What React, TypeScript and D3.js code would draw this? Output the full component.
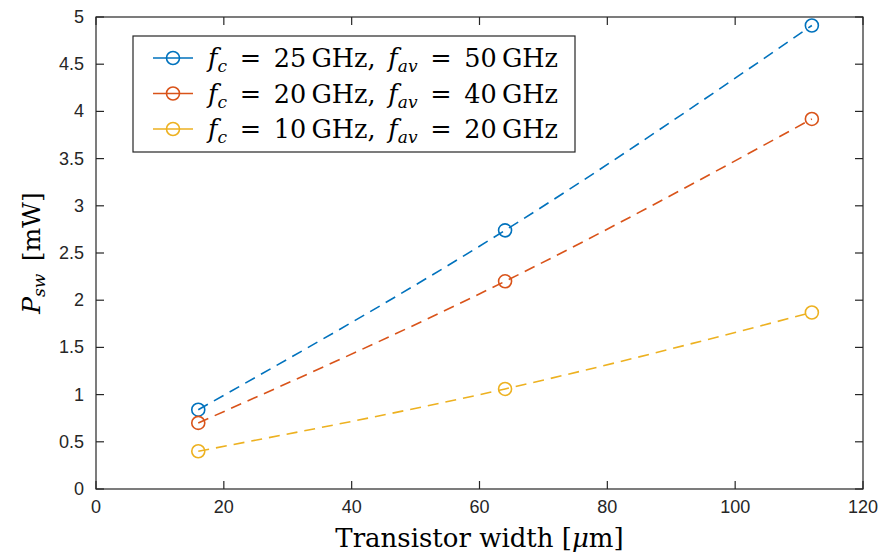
import React from 'react';
import * as d3 from 'd3';

// Switching power vs transistor width, three clock/average frequency pairs.
const widths = [16, 64, 112];
const series = [
  { fc: 25, fav: 50, color: '#0072BD', values: [0.84, 2.74, 4.91] },
  { fc: 20, fav: 40, color: '#D95319', values: [0.7, 2.2, 3.92] },
  { fc: 10, fav: 20, color: '#EDB120', values: [0.4, 1.06, 1.87] },
];
const xTicks = [0, 20, 40, 60, 80, 100, 120];
const yTicks = [0, 0.5, 1, 1.5, 2, 2.5, 3, 3.5, 4, 4.5, 5];

const W = 879;
const H = 555;
const M = { left: 96, right: 16, top: 17, bottom: 66 };
const SERIF = '"DejaVu Serif", "Liberation Serif", serif';
const SANS = '"Liberation Sans", Arial, sans-serif';
const AXIS = '#262626';
const TICK = 8;

const x = d3.scaleLinear().domain([0, 120]).range([M.left, W - M.right]);
const y = d3.scaleLinear().domain([0, 5]).range([H - M.bottom, M.top]);

const line = d3
  .line<number>()
  .x((_d, i) => x(widths[i]))
  .y((d) => y(d))
  .curve(d3.curveMonotoneX);

const LegendLabel = ({ fc, fav, tx, ty }: { fc: number; fav: number; tx: number; ty: number }) => (
  <text x={tx} y={ty} fontFamily={SERIF} fontSize={25.5} fill="#000">
    <tspan fontStyle="italic">f</tspan>
    <tspan fontStyle="italic" fontSize={17} dy={5}>c</tspan>
    <tspan dy={-5}>{`\u2002=\u2002${fc}\u2009GHz,\u2002`}</tspan>
    <tspan fontStyle="italic">f</tspan>
    <tspan fontStyle="italic" fontSize={17} dy={5}>av</tspan>
    <tspan dy={-5}>{`\u2002=\u2002${fav}\u2009GHz`}</tspan>
  </text>
);

export default function App() {
  const [x0, x1] = x.range();
  const [y0, y1] = y.range();
  const legend = { x: 133, y: 36, w: 442, h: 116 };

  return (
    <svg width={W} height={H} style={{ position: 'absolute', left: 0, top: 0, background: '#fff' }}>
      <rect width={W} height={H} fill="#fff" />

      {/* series: dashed curve + open circle markers */}
      {series.map((s) => (
        <g key={s.fc}>
          <path d={line(s.values) ?? ''} fill="none" stroke={s.color} strokeWidth={1.6} strokeDasharray="11,7" />
          {s.values.map((v, i) => (
            <circle key={i} cx={x(widths[i])} cy={y(v)} r={6.5} fill="none" stroke={s.color} strokeWidth={1.6} />
          ))}
        </g>
      ))}

      {/* axes box with inward ticks on all sides */}
      <rect x={x0} y={y1} width={x1 - x0} height={y0 - y1} fill="none" stroke={AXIS} strokeWidth={1.2} />
      {xTicks.map((t) => (
        <g key={`x${t}`}>
          <line x1={x(t)} x2={x(t)} y1={y0} y2={y0 - TICK} stroke={AXIS} strokeWidth={1.2} />
          <line x1={x(t)} x2={x(t)} y1={y1} y2={y1 + TICK} stroke={AXIS} strokeWidth={1.2} />
          <text x={x(t)} y={y0 + 24} textAnchor="middle" fontFamily={SANS} fontSize={18} fill={AXIS}>
            {t}
          </text>
        </g>
      ))}
      {yTicks.map((t) => (
        <g key={`y${t}`}>
          <line x1={x0} x2={x0 + TICK} y1={y(t)} y2={y(t)} stroke={AXIS} strokeWidth={1.2} />
          <line x1={x1} x2={x1 - TICK} y1={y(t)} y2={y(t)} stroke={AXIS} strokeWidth={1.2} />
          <text x={x0 - 12} y={y(t) + 6} textAnchor="end" fontFamily={SANS} fontSize={18} fill={AXIS}>
            {t}
          </text>
        </g>
      ))}

      {/* axis labels */}
      <text x={(x0 + x1) / 2} y={547} textAnchor="middle" fontFamily={SERIF} fontSize={26} fill="#000">
        Transistor width [<tspan fontStyle="italic">μ</tspan>m]
      </text>
      <text
        transform={`translate(40, ${(y0 + y1) / 2}) rotate(-90)`}
        textAnchor="middle"
        fontFamily={SERIF}
        fontSize={25}
        fill="#000"
      >
        <tspan fontStyle="italic">P</tspan>
        <tspan fontStyle="italic" fontSize={17} dy={5}>sw</tspan>
        <tspan dy={-5}>{'\u2002[mW]'}</tspan>
      </text>

      {/* legend */}
      <rect x={legend.x} y={legend.y} width={legend.w} height={legend.h} fill="#fff" stroke={AXIS} strokeWidth={1.2} />
      {series.map((s, i) => {
        const ry = legend.y + 22 + i * 35.5;
        return (
          <g key={`l${s.fc}`}>
            <line x1={153} x2={193} y1={ry} y2={ry} stroke={s.color} strokeWidth={1.6} />
            <circle cx={173} cy={ry} r={6.5} fill="none" stroke={s.color} strokeWidth={1.6} />
            <LegendLabel fc={s.fc} fav={s.fav} tx={208} ty={ry + 9} />
          </g>
        );
      })}
    </svg>
  );
}
